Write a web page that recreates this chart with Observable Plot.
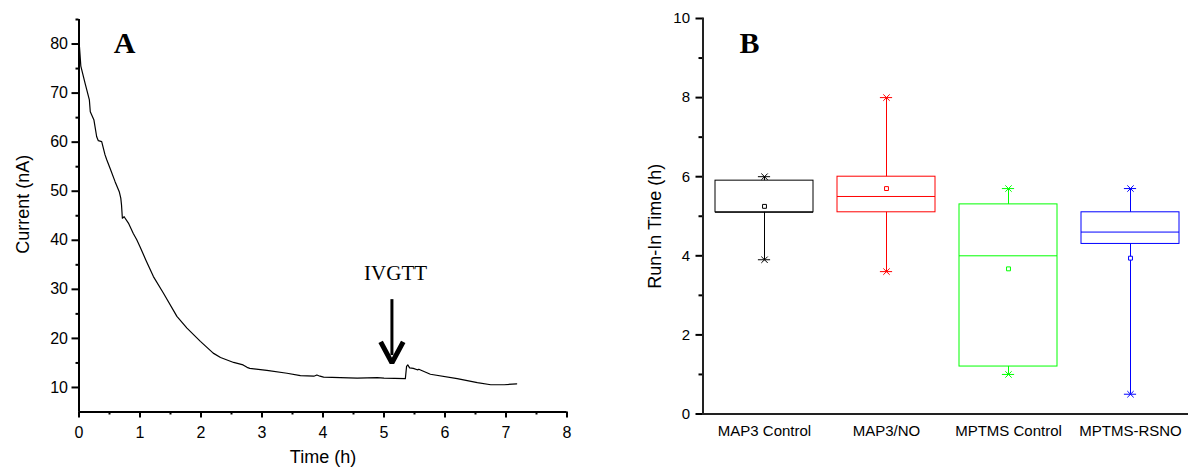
<!DOCTYPE html>
<html>
<head>
<meta charset="utf-8">
<script src="https://cdn.jsdelivr.net/npm/d3@7"></script>
<script src="https://cdn.jsdelivr.net/npm/@observablehq/plot@0.6"></script>
<style>
  html, body { margin: 0; padding: 0; background: white; }
  #wrap { position: relative; width: 1188px; height: 471px; overflow: hidden; }
  #wrap svg { position: absolute; top: 0; }
</style>
</head>
<body>
<div id="wrap"></div>
<script>
// ---------- Panel A data ----------
const timeH = [0.008, 0.03, 0.1, 0.17, 0.185, 0.245, 0.29, 0.317, 0.372, 0.427, 0.455, 0.509, 0.59, 0.66, 0.685, 0.697, 0.711, 0.74, 0.81, 0.89, 0.947, 1.0, 1.095, 1.22, 1.385, 1.605, 1.77, 1.99, 2.2, 2.32, 2.535, 2.69, 2.755, 2.8, 3.08, 3.41, 3.63, 3.85, 3.9, 3.95, 4.01, 4.56, 4.89, 5.0, 5.35, 5.37, 5.39, 5.42, 5.48, 5.545, 5.57, 5.76, 6.2, 6.53, 6.75, 6.97, 7.175];
const currentNA = [79.4, 75.5, 72, 68.6, 66.2, 64.5, 61.1, 60.3, 60.1, 57.4, 56.4, 54.7, 52, 49.9, 48.6, 47.2, 44.5, 44.8, 43.5, 41.4, 40.1, 38.7, 36.0, 32.6, 29.2, 24.5, 22.1, 19.4, 17.0, 16.1, 15.1, 14.6, 14.1, 13.9, 13.5, 12.9, 12.4, 12.3, 12.55, 12.3, 12.1, 11.9, 12.0, 11.9, 11.8, 14.3, 14.6, 14.0, 13.9, 13.6, 13.7, 12.7, 11.8, 11.0, 10.55, 10.55, 10.75];
const xTicksA = [0, 1, 2, 3, 4, 5, 6, 7, 8];
const xMinorA = [0.5, 1.5, 2.5, 3.5, 4.5, 5.5, 6.5, 7.5];
const yTicksA = [10, 20, 30, 40, 50, 60, 70, 80];
const yMinorA = [15, 25, 35, 45, 55, 65, 75, 85];
const annotText = [{x: 5.19, y: 31.9, label: "IVGTT"}];
const arrowShaft = [{x: 5.13, y1: 27.9, y2: 16.5}];
const arrowHead = [{x: 4.945, y: 19.3}, {x: 5.13, y: 15.0}, {x: 5.315, y: 19.3}];

// ---------- Panel B data ----------
const groups = ["MAP3 Control", "MAP3/NO", "MPTMS Control", "MPTMS-RSNO"];
const colors = ["#000000", "#ff0000", "#00ff00", "#0000ff"];
const q1 = [5.1, 5.1, 1.2, 4.3];
const median = [5.1, 5.5, 4.0, 4.6];
const q3 = [5.9, 6.0, 5.3, 5.1];
const minV = [3.9, 3.6, 1.0, 0.5];
const maxV = [6.0, 8.0, 5.7, 5.7];
const meanV = [5.25, 5.7, 3.67, 3.94];
const yTicksB = [0, 2, 4, 6, 8, 10];
const yMinorB = [1, 3, 5, 7, 9];

const trace = timeH.map((t, i) => ({t, c: currentNA[i]}));
const boxes = groups.map((g, i) => ({
  group: g, color: colors[i], q1: q1[i], median: median[i], q3: q3[i],
  min: minV[i], max: maxV[i], mean: meanV[i]
}));
const ends = boxes.flatMap(b => [{group: b.group, color: b.color, v: b.min}, {group: b.group, color: b.color, v: b.max}]);

const baseStyle = {fontFamily: "'Liberation Sans', Arial, sans-serif", fontSize: "15px", color: "black", background: "transparent", overflow: "visible"};

const plotA = Plot.plot({
  width: 600, height: 471,
  marginLeft: 78.5, marginRight: 33.5, marginTop: 19, marginBottom: 59.5,
  x: {domain: [0, 8]},
  y: {domain: [5, 85]},
  style: baseStyle,
  marks: [
    Plot.axisX({ticks: xTicksA, tickSize: 6, tickPadding: 9, strokeWidth: 2, label: null, fontSize: 16}),
    Plot.axisX({ticks: xMinorA, tickSize: 3, text: null, label: null, strokeWidth: 2}),
    Plot.axisY({ticks: yTicksA, tickSize: 7, tickPadding: 4, strokeWidth: 2, label: null, fontSize: 16}),
    Plot.axisY({ticks: yMinorA, tickSize: 3, text: null, label: null, strokeWidth: 2}),
    Plot.ruleX([0], {y1: 5, y2: 85, strokeWidth: 2, stroke: "black"}),
    Plot.ruleY([5], {x1: 0, x2: 8, strokeWidth: 2, stroke: "black"}),
    Plot.line(trace, {x: "t", y: "c", stroke: "black", strokeWidth: 1.2}),
    Plot.ruleX(arrowShaft, {x: "x", y1: "y1", y2: "y2", strokeWidth: 3, stroke: "black"}),
    Plot.line(arrowHead, {x: "x", y: "y", strokeWidth: 5, stroke: "black", strokeLinejoin: "miter", strokeLinecap: "butt"}),
    Plot.text(annotText, {x: "x", y: "y", text: "label", fontFamily: "'Liberation Serif', 'Times New Roman', serif", fontSize: 21, lineAnchor: "bottom", textAnchor: "middle"}),
    Plot.text(["A"], {text: d => d, frameAnchor: "top-left", dx: 45.5, dy: 33, textAnchor: "middle", lineAnchor: "bottom", fontFamily: "'Liberation Serif', 'Times New Roman', serif", fontWeight: "bold", fontSize: 30}),
    Plot.text(["Current (nA)"], {text: d => d, frameAnchor: "left", dx: -55.5, dy: -11.5, rotate: -90, textAnchor: "middle", lineAnchor: "middle", fontSize: 18}),
    Plot.text(["Time (h)"], {text: d => d, frameAnchor: "bottom", dy: 45.5, textAnchor: "middle", lineAnchor: "middle", fontSize: 18})
  ]
});
plotA.style.left = "0px";

const plotB = Plot.plot({
  width: 588, height: 471,
  marginLeft: 102.5, marginRight: 0, marginTop: 18, marginBottom: 57.5,
  x: {domain: groups, range: [102.6, 591.4], paddingInner: 0.2, paddingOuter: 0.1, align: 0.5},
  y: {domain: [0, 10]},
  color: {type: "identity"},
  style: baseStyle,
  marks: [
    Plot.axisX({tickSize: 0, tickPadding: 11, label: null, fontSize: 15}),
    Plot.axisY({ticks: yTicksB, tickSize: 7, tickPadding: 6, strokeWidth: 2, label: null, fontSize: 15}),
    Plot.axisY({ticks: yMinorB, tickSize: 4, text: null, label: null, strokeWidth: 2}),
    Plot.frame({anchor: "left", strokeWidth: 2, stroke: "#222"}),
    Plot.ruleY([0], {strokeWidth: 2, stroke: "#222"}),
    Plot.ruleX(boxes, {x: "group", y1: "min", y2: "q1", stroke: "color", strokeWidth: 1}),
    Plot.ruleX(boxes, {x: "group", y1: "q3", y2: "max", stroke: "color", strokeWidth: 1}),
    Plot.barY(boxes, {x: "group", y1: "q1", y2: "q3", fill: "none", stroke: "color", strokeWidth: 1}),
    Plot.tickY(boxes, {x: "group", y: "median", stroke: "color", strokeWidth: 1}),
    Plot.tickY(ends, {x: "group", y: "v", stroke: "color", strokeWidth: 1, insetLeft: 42.9, insetRight: 42.9}),
    Plot.dot(ends, {x: "group", y: "v", stroke: "color", symbol: "times", r: 3, strokeWidth: 1}),
    Plot.dot(boxes, {x: "group", y: "mean", stroke: "color", fill: "white", symbol: "square", r: 2.2, strokeWidth: 1}),
    Plot.text(["B"], {text: d => d, frameAnchor: "top-left", dx: 46.5, dy: 34, textAnchor: "middle", lineAnchor: "bottom", fontFamily: "'Liberation Serif', 'Times New Roman', serif", fontWeight: "bold", fontSize: 30}),
    Plot.text(["Run-In Time (h)"], {text: d => d, frameAnchor: "left", dx: -47.5, dy: 9.9, rotate: -90, textAnchor: "middle", lineAnchor: "middle", fontSize: 18})
  ]
});
plotB.style.left = "600px";

const wrap = document.getElementById("wrap");
wrap.appendChild(plotA);
wrap.appendChild(plotB);
</script>
</body>
</html>
